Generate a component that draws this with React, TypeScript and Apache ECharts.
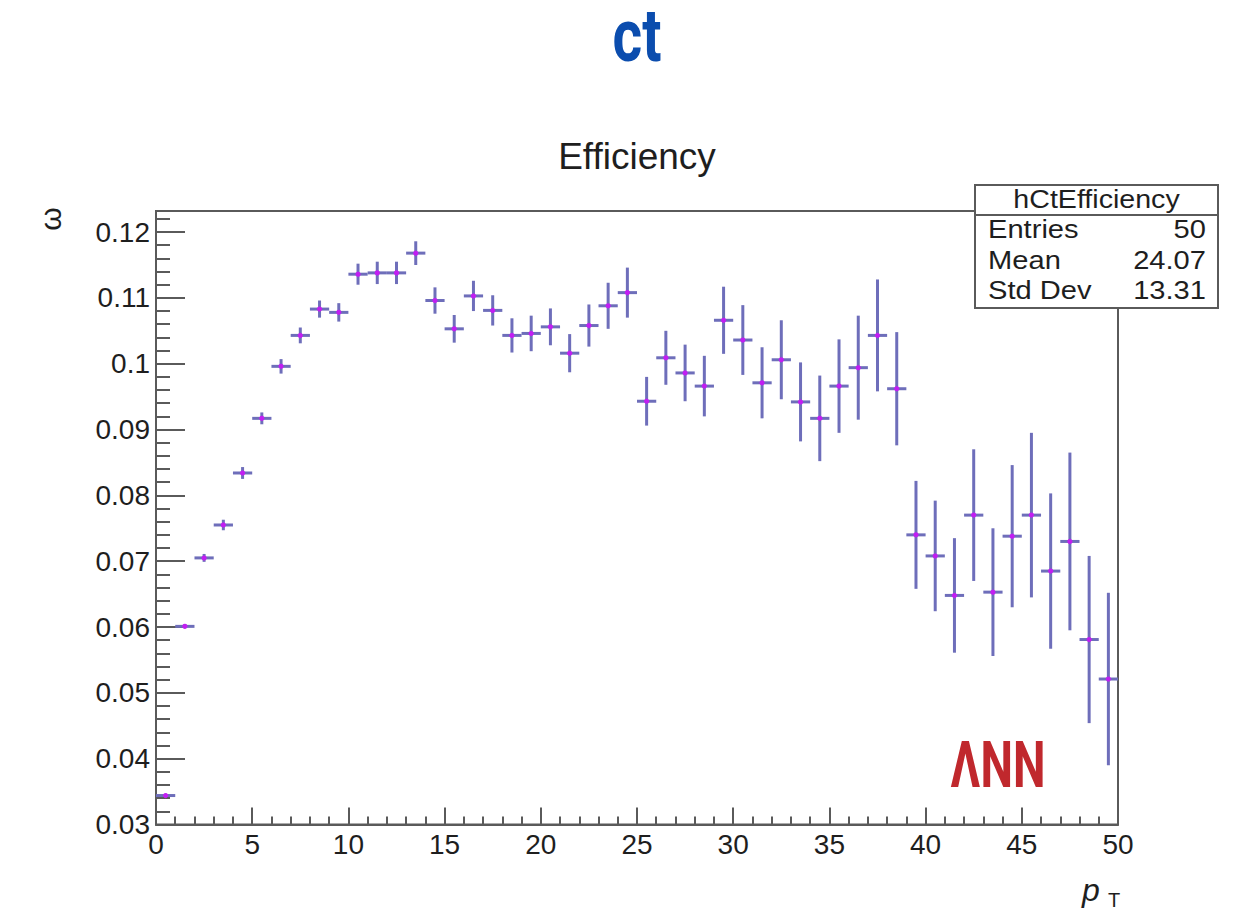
import React, { useEffect, useRef } from "react";
import * as echarts from "echarts";

const binCenters = [
  0.5, 1.5, 2.5, 3.5, 4.5, 5.5, 6.5, 7.5, 8.5, 9.5,
  10.5, 11.5, 12.5, 13.5, 14.5, 15.5, 16.5, 17.5, 18.5, 19.5,
  20.5, 21.5, 22.5, 23.5, 24.5, 25.5, 26.5, 27.5, 28.5, 29.5,
  30.5, 31.5, 32.5, 33.5, 34.5, 35.5, 36.5, 37.5, 38.5, 39.5,
  40.5, 41.5, 42.5, 43.5, 44.5, 45.5, 46.5, 47.5, 48.5, 49.5,
];

const efficiency = [
  0.0344, 0.0601, 0.0705, 0.0755, 0.0834, 0.0917, 0.0996, 0.1043, 0.1083, 0.1078,
  0.1136, 0.1138, 0.1138, 0.1168, 0.1096, 0.1053, 0.1103, 0.1081, 0.1043, 0.1046,
  0.1056, 0.1016, 0.1058, 0.1088, 0.1108, 0.0943, 0.1009, 0.0986, 0.0966, 0.1066,
  0.1036, 0.0971, 0.1006, 0.0942, 0.0917, 0.0966, 0.0994, 0.1043, 0.0962, 0.0740,
  0.0708, 0.0648, 0.0770, 0.0653, 0.0738, 0.0770, 0.0685, 0.0730, 0.0581, 0.0521,
];

const errors = [
  0.0002, 0.0003, 0.0006, 0.0008, 0.0009, 0.0009, 0.0011, 0.0012, 0.0013, 0.0014,
  0.0016, 0.0017, 0.0017, 0.0018, 0.0020, 0.0021, 0.0023, 0.0023, 0.0026, 0.0027,
  0.0028, 0.0029, 0.0032, 0.0035, 0.0038, 0.0037, 0.0041, 0.0043, 0.0046, 0.0051,
  0.0053, 0.0054, 0.0060, 0.0060, 0.0065, 0.0071, 0.0079, 0.0085, 0.0086, 0.0082,
  0.0084, 0.0087, 0.0100, 0.0097, 0.0108, 0.0125, 0.0118, 0.0135, 0.0127, 0.0131,
];

const binHalfWidth = 0.5;

const statsTitle = "hCtEfficiency";
const statsLabels = ["Entries", "Mean", "Std Dev"];
const statsValues = ["50", "24.07", "13.31"];

const FONT = "Liberation Sans, Arial, sans-serif";
const AXIS_COLOR = "#5a5a5a";
const TEXT_COLOR = "#1e1e1e";
const BAR_COLOR = "#6e6eba";
const DOT_COLOR = "#c21ef2";

export default function App() {
  const ref = useRef<HTMLDivElement>(null);

  useEffect(() => {
    if (!ref.current) return;
    const chart = echarts.init(ref.current, undefined, { renderer: "svg" });

    const data = binCenters.map((x, i) => [x, efficiency[i], errors[i]]);

    const statsX = 975;
    const statsY = 185;
    const statsW = 243;
    const statsH = 123;
    const rowYs = [229, 260, 290];

    const statsTexts: any[] = [];
    statsLabels.forEach((lab, i) => {
      statsTexts.push({
        type: "text",
        x: 988,
        y: rowYs[i],
        scaleX: 1.12,
        style: {
          text: lab,
          font: `26px ${FONT}`,
          fill: TEXT_COLOR,
          textAlign: "left",
          textVerticalAlign: "middle",
        },
      });
      statsTexts.push({
        type: "text",
        x: 1206,
        y: rowYs[i],
        scaleX: 1.12,
        style: {
          text: statsValues[i],
          font: `26px ${FONT}`,
          fill: TEXT_COLOR,
          textAlign: "right",
          textVerticalAlign: "middle",
        },
      });
    });

    const option: any = {
      animation: false,
      backgroundColor: "#ffffff",
      grid: {
        left: 156,
        right: 1249 - 1118,
        top: 211,
        bottom: 911 - 824.5,
        show: true,
        borderColor: AXIS_COLOR,
        borderWidth: 2,
        backgroundColor: "transparent",
        containLabel: false,
        outerBoundsMode: "none",
      },
      xAxis: {
        type: "value",
        min: 0,
        max: 50,
        interval: 5,
        axisLine: { show: true, lineStyle: { color: AXIS_COLOR, width: 2 } },
        axisTick: { show: true, inside: true, length: 17, lineStyle: { color: AXIS_COLOR, width: 2 } },
        minorTick: { show: true, splitNumber: 5, length: 8, lineStyle: { color: AXIS_COLOR, width: 2 } },
        splitLine: { show: false },
        axisLabel: {
          show: true,
          margin: 6,
          fontSize: 28,
          fontFamily: FONT,
          color: TEXT_COLOR,
          showMinLabel: true,
          showMaxLabel: true,
        },
      },
      yAxis: {
        type: "value",
        min: 0.03,
        max: 0.1232,
        interval: 0.01,
        axisLine: { show: true, lineStyle: { color: AXIS_COLOR, width: 2 } },
        axisTick: { show: true, inside: true, length: 29, lineStyle: { color: AXIS_COLOR, width: 2 } },
        minorTick: { show: true, splitNumber: 5, length: 14, lineStyle: { color: AXIS_COLOR, width: 2 } },
        splitLine: { show: false },
        axisLabel: {
          show: true,
          margin: 6,
          fontSize: 28,
          fontFamily: FONT,
          color: TEXT_COLOR,
          showMaxLabel: false,
          formatter: (v: number) => {
            const r = Math.round(v * 100) / 100;
            if (Math.abs(r - v) > 1e-6) return "";
            return String(r);
          },
        },
      },
      series: [
        {
          type: "custom",
          clip: false,
          data,
          renderItem: (_params: any, api: any) => {
            const x = api.value(0);
            const v = api.value(1);
            const e = api.value(2);
            const p = api.coord([x, v]);
            const l = api.coord([x - binHalfWidth, v]);
            const r = api.coord([x + binHalfWidth, v]);
            const lo = api.coord([x, v - e]);
            const hi = api.coord([x, v + e]);
            return {
              type: "group",
              children: [
                {
                  type: "line",
                  shape: { x1: lo[0], y1: lo[1], x2: hi[0], y2: hi[1] },
                  style: { stroke: BAR_COLOR, lineWidth: 3 },
                },
                {
                  type: "line",
                  shape: { x1: l[0], y1: p[1], x2: r[0], y2: p[1] },
                  style: { stroke: BAR_COLOR, lineWidth: 3 },
                },
                {
                  type: "circle",
                  shape: { cx: p[0], cy: p[1], r: 2.6 },
                  style: { fill: DOT_COLOR },
                },
              ],
            };
          },
        },
      ],
      graphic: [
        {
          type: "text",
          x: 637,
          y: 35,
          scaleX: 0.76,
          style: {
            text: "ct",
            font: "bold 75px Roboto, sans-serif",
            lineHeight: 60,
            fill: "#0b4dae",
            textAlign: "center",
            textVerticalAlign: "middle",
          },
        },
        {
          type: "text",
          x: 637,
          y: 156,
          style: {
            text: "Efficiency",
            font: `37px ${FONT}`,
            fill: TEXT_COLOR,
            textAlign: "center",
            textVerticalAlign: "middle",
          },
        },
        {
          type: "text",
          x: 50,
          y: 219,
          rotation: Math.PI / 2,
          style: {
            text: "ω",
            font: `30px ${FONT}`,
            fill: TEXT_COLOR,
            textAlign: "center",
            textVerticalAlign: "middle",
          },
        },
        {
          type: "text",
          x: 1082,
          y: 874,
          style: {
            text: "p",
            font: `italic 32px ${FONT}`,
            fill: TEXT_COLOR,
            textAlign: "left",
            textVerticalAlign: "top",
          },
        },
        {
          type: "text",
          x: 1108,
          y: 890,
          style: {
            text: "T",
            font: `20px ${FONT}`,
            fill: TEXT_COLOR,
            textAlign: "left",
            textVerticalAlign: "top",
          },
        },
        {
          type: "text",
          x: 998,
          y: 765,
          scaleX: 0.72,
          style: {
            text: "ΛNN",
            font: "bold 64px Roboto, sans-serif",
            fill: "#c0282d",
            textAlign: "center",
            textVerticalAlign: "middle",
          },
        },
        {
          type: "rect",
          shape: { x: statsX, y: statsY, width: statsW, height: statsH },
          style: { fill: "#ffffff", stroke: AXIS_COLOR, lineWidth: 2 },
          z: 100,
        },
        {
          type: "line",
          shape: { x1: statsX, y1: 215, x2: statsX + statsW, y2: 215 },
          style: { stroke: AXIS_COLOR, lineWidth: 2 },
          z: 101,
        },
        {
          type: "text",
          x: statsX + statsW / 2,
          y: 199,
          scaleX: 1.1,
          z: 101,
          style: {
            text: statsTitle,
            font: `26px ${FONT}`,
            fill: TEXT_COLOR,
            textAlign: "center",
            textVerticalAlign: "middle",
          },
        },
        ...statsTexts.map((t) => ({ ...t, z: 101 })),
      ],
    };

    chart.setOption(option);
    return () => {
      chart.dispose();
    };
  }, []);

  return (
    <div
      ref={ref}
      style={{ position: "fixed", left: 0, top: 0, width: 1249, height: 911, background: "#fff" }}
    />
  );
}
